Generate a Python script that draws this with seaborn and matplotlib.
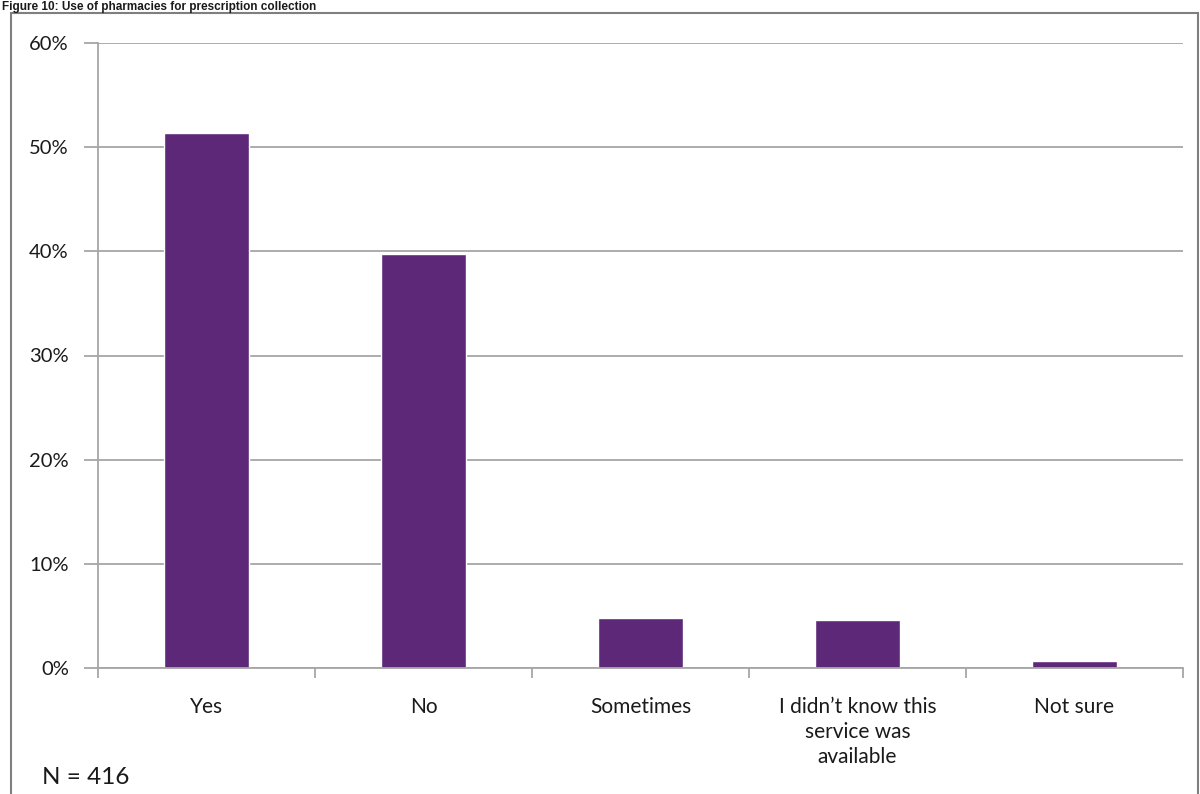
import matplotlib
matplotlib.use("Agg")
import matplotlib.pyplot as plt
import seaborn as sns
import pandas as pd
from matplotlib.patches import Rectangle
from matplotlib.ticker import PercentFormatter

categories = ["Yes", "No", "Sometimes", "I didn\u2019t know this\nservice was\navailable", "Not sure"]
values = [51.4, 39.7, 4.8, 4.6, 0.7]
y_ticks = [0, 10, 20, 30, 40, 50, 60]

sns.set_theme(style="white")
plt.rcParams['font.family'] = ['Lato', 'DejaVu Sans']

fig = plt.figure(figsize=(12, 7.94), dpi=100)
ax = fig.add_axes([98/1200, 1-668/794, (1183-98)/1200, (668-43)/794])

df = pd.DataFrame({"cat": categories, "val": values})
sns.barplot(data=df, x="cat", y="val", color="#5E2878", saturation=1, width=0.39, ax=ax)

ax.set_ylim(0, 60)
ax.set_xlim(-0.5, 4.5)
ax.set_yticks(y_ticks)
ax.yaxis.set_major_formatter(PercentFormatter(decimals=0))
ax.yaxis.grid(True, color="#A6A6A6", linewidth=1.3)
ax.set_axisbelow(True)
ax.set_xlabel("")
ax.set_ylabel("")
for s in ["top", "right"]:
    ax.spines[s].set_visible(False)
for s in ["left", "bottom"]:
    ax.spines[s].set_color("#A6A6A6")
    ax.spines[s].set_linewidth(1.3)

ax.set_xticks([-0.5, 0.5, 1.5, 2.5, 3.5, 4.5], minor=False)
ax.set_xticklabels([])
ax.set_xticks(range(len(categories)), minor=True)
ax.set_xticklabels(categories, minor=True, fontsize=15, color="#1A1A1A", linespacing=1.3)
ax.tick_params(axis="x", which="major", length=7, width=1.3, color="#A6A6A6", direction="out", bottom=True)
ax.tick_params(axis="x", which="minor", length=0, pad=21)
ax.tick_params(axis="y", length=10, width=1.3, color="#A6A6A6", direction="out", left=True,
               labelsize=14.5, labelcolor="#1A1A1A", pad=11)

# outer frame
fig.patches.append(Rectangle((11/1200, -0.05), (1198-11)/1200, 1.05 - 13/794, transform=fig.transFigure,
                             fill=False, edgecolor="#7F7F7F", linewidth=1.5, zorder=0))

fig.text(42/1200, 1-777/794, "N = 416", fontsize=17.5, va="center", ha="left", color="#1A1A1A")
fig.text(2/1200, 1-1/794, "Figure 10: Use of pharmacies for prescription collection", fontsize=8.5,
         fontweight="bold", family=["Liberation Sans"], va="top", ha="left", color="#1A1A1A")

fig.savefig("out.png", dpi=100)
